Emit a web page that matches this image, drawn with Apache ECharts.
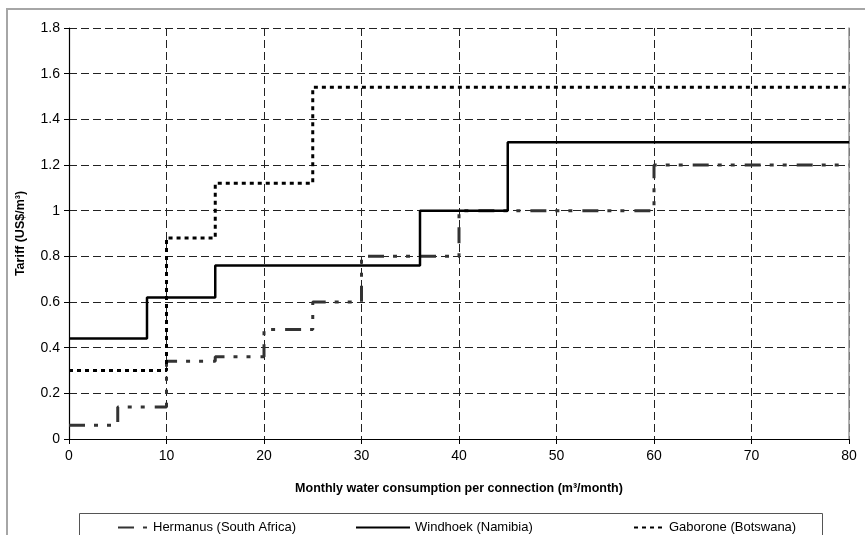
<!DOCTYPE html>
<html>
<head>
<meta charset="utf-8">
<script src="https://cdn.jsdelivr.net/npm/echarts@6/dist/echarts.min.js"></script>
<style>
  html, body { margin: 0; padding: 0; background: #fff; }
  #chart { width: 865px; height: 535px; }
</style>
</head>
<body>
<div id="chart"></div>
<script>
// Block tariff schedules: each block starts at the given consumption (m3/month)
// and keeps its price (US$/m3) until the next block starts.
const hermanusX = [0, 5, 10, 15, 20, 25, 30, 40, 60, 80];
const hermanusY = [0.06, 0.14, 0.34, 0.36, 0.48, 0.60, 0.80, 1.00, 1.20, 1.20];

const windhoekX = [0, 8, 15, 36, 45, 80];
const windhoekY = [0.44, 0.62, 0.76, 1.00, 1.30, 1.30];

const gaboroneX = [0, 10, 15, 25, 80];
const gaboroneY = [0.30, 0.88, 1.12, 1.54, 1.54];

const seriesNames = ['Hermanus (South Africa)', 'Windhoek (Namibia)', 'Gaborone (Botswana)'];
const xTicks = [0, 10, 20, 30, 40, 50, 60, 70, 80];
const yTicks = [0, 0.2, 0.4, 0.6, 0.8, 1, 1.2, 1.4, 1.6, 1.8];

const pairs = (xs, ys) => xs.map((x, i) => [x, ys[i]]);

const FONT = 'Liberation Sans, Arial, sans-serif';
const gridDash = { color: '#222', width: 1, type: [8, 4] };
const legendText = { fontFamily: FONT, fontSize: 13, color: '#000' };
const titleText = { fontFamily: FONT, fontSize: 12.5, fontWeight: 'bold', color: '#000' };

const chart = echarts.init(document.getElementById('chart'), null, { renderer: 'canvas' });

chart.setOption({
  animation: false,
  backgroundColor: '#fff',
  textStyle: { fontFamily: FONT, color: '#000' },
  grid: { left: 69, right: 16, top: 28, bottom: 96, containLabel: false },
  xAxis: {
    type: 'value',
    min: xTicks[0],
    max: xTicks[xTicks.length - 1],
    interval: 10,
    name: 'Monthly water consumption per connection (m³/month)',
    nameLocation: 'middle',
    nameGap: 43,
    nameTextStyle: titleText,
    axisLine: { lineStyle: { color: '#000', width: 1.2 } },
    axisTick: { show: true, length: 5, lineStyle: { color: '#000' } },
    axisLabel: { fontFamily: FONT, fontSize: 14, color: '#000', margin: 10 },
    splitLine: { show: true, lineStyle: gridDash }
  },
  yAxis: [
    {
      type: 'value',
      min: yTicks[0],
      max: yTicks[yTicks.length - 1],
      interval: 0.2,
      name: 'Tariff (US$/m³)',
      nameLocation: 'middle',
      nameGap: 42,
      nameRotate: 90,
      nameTextStyle: titleText,
      axisLine: { show: true, lineStyle: { color: '#000', width: 1.2 } },
      axisTick: { show: true, length: 5, lineStyle: { color: '#000' } },
      axisLabel: { fontFamily: FONT, fontSize: 14, color: '#000', margin: 9 },
      splitLine: { show: true, lineStyle: gridDash }
    },
    {
      type: 'value',
      position: 'right',
      min: 0,
      max: 1.8,
      interval: 0.2,
      axisLine: { show: true, lineStyle: { color: '#999', width: 1.5 } },
      axisTick: { show: false },
      axisLabel: { show: false },
      splitLine: { show: false }
    }
  ],
  legend: [
    {
      data: [seriesNames[0]],
      left: 112, top: 516,
      itemWidth: 30, itemHeight: 10,
      itemStyle: { opacity: 0 },
      textStyle: legendText
    },
    {
      data: [seriesNames[1]],
      left: 350, top: 516,
      itemWidth: 54, itemHeight: 10,
      itemStyle: { opacity: 0 },
      textStyle: legendText
    },
    {
      data: [seriesNames[2]],
      left: 628, top: 516,
      itemWidth: 30, itemHeight: 10,
      itemStyle: { opacity: 0 },
      textStyle: legendText
    }
  ],
  graphic: [
    {
      type: 'rect',
      shape: { x: 7, y: 9, width: 880, height: 560 },
      style: { fill: null, stroke: '#a6a6a6', lineWidth: 2 },
      silent: true, z: -1
    },
    {
      type: 'rect',
      shape: { x: 79.5, y: 513.5, width: 743, height: 40 },
      style: { fill: null, stroke: '#555', lineWidth: 1 },
      silent: true
    }
  ],
  series: [
    {
      name: seriesNames[0],
      type: 'line',
      step: 'end',
      symbol: 'none',
      data: pairs(hermanusX, hermanusY),
      lineStyle: { color: '#333', width: 3, type: [16, 9, 4, 9, 4, 10] },
      itemStyle: { color: '#333' },
      z: 3
    },
    {
      name: seriesNames[1],
      type: 'line',
      step: 'end',
      symbol: 'none',
      data: pairs(windhoekX, windhoekY),
      lineStyle: { color: '#000', width: 2.5, type: 'solid' },
      itemStyle: { color: '#000' },
      z: 4
    },
    {
      name: seriesNames[2],
      type: 'line',
      step: 'end',
      symbol: 'none',
      data: pairs(gaboroneX, gaboroneY),
      lineStyle: { color: '#000', width: 3, type: [4, 4] },
      itemStyle: { color: '#000' },
      z: 5
    }
  ]
});
</script>
</body>
</html>
